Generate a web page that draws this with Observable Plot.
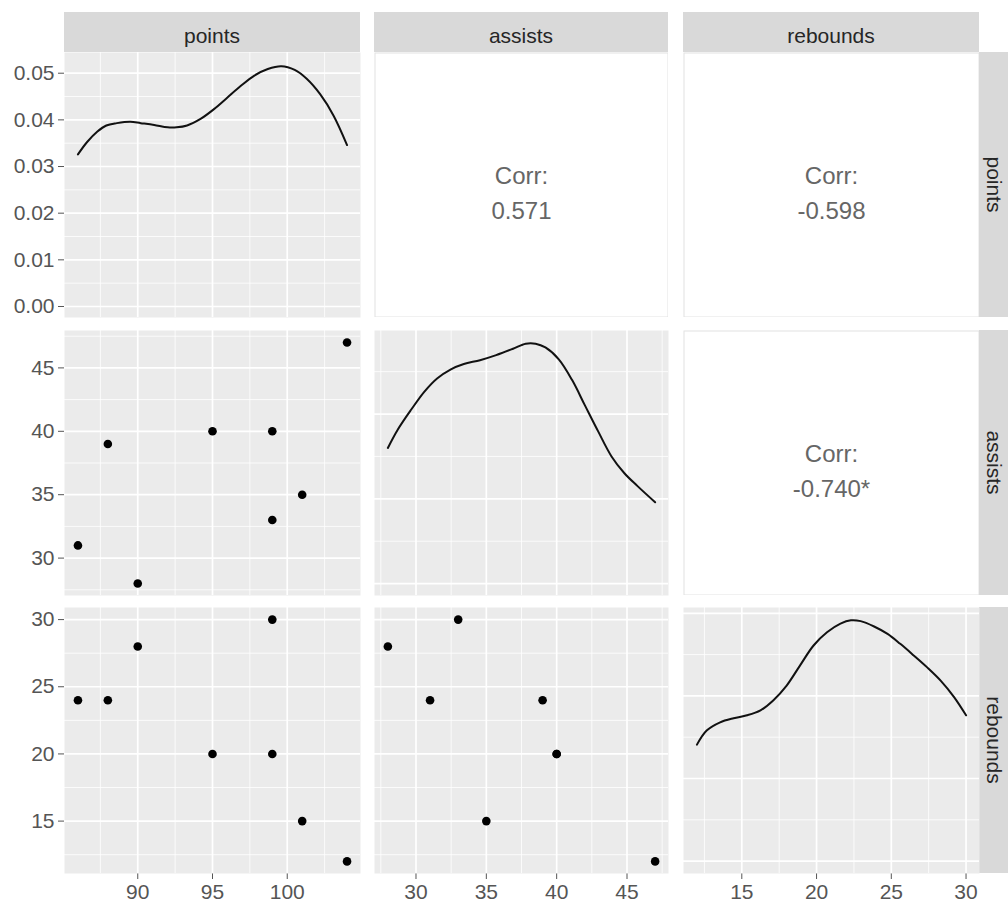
<!DOCTYPE html>
<html>
<head>
<meta charset="utf-8">
<script src="https://cdn.jsdelivr.net/npm/d3@7"></script>
<script src="https://cdn.jsdelivr.net/npm/@observablehq/plot@0.6"></script>
<style>
  body { margin: 0; background: #ffffff; }
  #chart { position: relative; width: 1008px; height: 904px; overflow: hidden; background: #ffffff;
           font-family: "Liberation Sans", Arial, sans-serif; }
  #chart svg { position: absolute; }
</style>
</head>
<body>
<div id="chart"></div>
<script>
// ---------------- data ----------------
const variables = ["points", "assists", "rebounds"];
const points   = [99, 90, 86, 88, 95, 99, 101, 104];
const assists  = [33, 28, 31, 39, 40, 40, 35, 47];
const rebounds = [30, 28, 24, 24, 20, 20, 15, 12];

// correlation labels: [points-assists, points-rebounds, assists-rebounds]
const corrLabels = ["0.571", "-0.598", "-0.740*"];

// density curves
const pointsDensX = [86, 86.6, 87.3, 87.9, 88.6, 89.5, 90.2, 91.1, 92.0, 92.6, 93.3, 94.2, 95.1, 96.0, 96.9, 97.8, 98.7, 99.6, 100.5, 101.3, 102.2, 103.1, 104];
const pointsDensY = [0.0326, 0.0352, 0.0375, 0.0388, 0.0393, 0.0396, 0.0393, 0.0389, 0.0384, 0.0384, 0.0388, 0.0402, 0.0423, 0.0448, 0.0473, 0.0495, 0.0509, 0.0515, 0.0507, 0.0488, 0.0455, 0.0409, 0.0346];
const assistsDensX = [28, 28.7, 29.65, 30.6, 31.5, 32.45, 33.4, 34.55, 35.7, 36.9, 37.8, 38.5, 39.2, 40.15, 41.1, 42.0, 42.95, 43.9, 44.8, 45.75, 47];
const assistsDensY = [0.0320, 0.0363, 0.0410, 0.0453, 0.0484, 0.0505, 0.0518, 0.0527, 0.0539, 0.0554, 0.0566, 0.0566, 0.0557, 0.0529, 0.0480, 0.0421, 0.0359, 0.0300, 0.0261, 0.0230, 0.0192];
const reboundsDensX = [12, 12.65, 13.55, 14.45, 15.35, 16.25, 17.1, 18.0, 18.9, 19.8, 20.7, 21.6, 22.3, 22.95, 23.85, 24.75, 25.6, 26.5, 27.4, 28.3, 29.2, 30];
const reboundsDensY = [0.0282, 0.0316, 0.0336, 0.0346, 0.0353, 0.0365, 0.0389, 0.0425, 0.0474, 0.0522, 0.0554, 0.0575, 0.0583, 0.0581, 0.0568, 0.0550, 0.0526, 0.0498, 0.0469, 0.0437, 0.0397, 0.0353];

// tick labels / breaks
const pointsTicks   = [90, 95, 100];
const assistsTicks  = [30, 35, 40, 45];
const reboundsTicks = [15, 20, 25, 30];
const densityTicks  = [0, 0.01, 0.02, 0.03, 0.04, 0.05];
const pointsMinor   = [87.5, 92.5, 97.5, 102.5];
const assistsMinor  = [27.5, 32.5, 37.5, 42.5, 47.5];
const reboundsMinor = [12.5, 17.5, 22.5, 27.5];
const densityFineMinor = [0.005, 0.015, 0.025, 0.035, 0.045];
const densityCoarseMajor = [0, 0.02, 0.04, 0.06];
const densityCoarseMinor = [0.01, 0.03, 0.05];

// ---------------- layout (not data) ----------------
const cols = [{x0: 64, x1: 360}, {x0: 374, x1: 668}, {x0: 683, x1: 979}];
const rows = [{y0: 52, y1: 317}, {y0: 330, y1: 595}, {y0: 607, y1: 873}];
const varDomain = {points: [85.1, 104.9], assists: [27.05, 47.95], rebounds: [11.1, 30.9]};
const densDomain = {points: [-0.00236, 0.05444], assists: [-0.0028, 0.0597], rebounds: [-0.003, 0.0614]};
const varTicks = {points: pointsTicks, assists: assistsTicks, rebounds: reboundsTicks};
const varMinor = {points: pointsMinor, assists: assistsMinor, rebounds: reboundsMinor};
const density = {
  points:   pointsDensX.map((x, i) => ({x, y: pointsDensY[i]})),
  assists:  assistsDensX.map((x, i) => ({x, y: assistsDensY[i]})),
  rebounds: reboundsDensX.map((x, i) => ({x, y: reboundsDensY[i]}))
};
const players = points.map((p, i) => ({points: p, assists: assists[i], rebounds: rebounds[i]}));

const FONT = "'Liberation Sans', Arial, sans-serif";
const chart = document.getElementById("chart");
const within = (arr, d) => arr.filter(v => v >= d[0] && v <= d[1]);

function place(svg, left, top) {
  svg.style.left = left + "px";
  svg.style.top = top + "px";
  svg.style.background = "transparent";
  svg.style.maxWidth = "none";
  chart.appendChild(svg);
}

function gridMarks(xMajor, xMinor, yMajor, yMinor) {
  return [
    Plot.frame({fill: "#EBEBEB", stroke: null}),
    Plot.ruleX(xMinor, {stroke: "#ffffff", strokeWidth: 0.8}),
    Plot.ruleY(yMinor, {stroke: "#ffffff", strokeWidth: 0.8}),
    Plot.ruleX(xMajor, {stroke: "#ffffff", strokeWidth: 1.7}),
    Plot.ruleY(yMajor, {stroke: "#ffffff", strokeWidth: 1.7})
  ];
}

function dataPanel(ci, ri, {xVar, yDomain, yTicks, yFormat, marks}) {
  const c = cols[ci], r = rows[ri];
  const axisLeft = ci === 0, axisBottom = ri === 2;
  const mL = axisLeft ? c.x0 : 0;
  const mB = axisBottom ? 904 - r.y1 : 0;
  const svg = Plot.plot({
    width: c.x1 - c.x0 + mL,
    height: r.y1 - r.y0 + mB,
    marginLeft: mL, marginRight: 0, marginTop: 0, marginBottom: mB,
    style: {fontFamily: FONT, fontSize: "21px", color: "#555555", background: "transparent", overflow: "visible"},
    x: {domain: varDomain[xVar], ticks: varTicks[xVar], tickSize: 6, tickPadding: 5, label: null,
        axis: axisBottom ? "bottom" : null},
    y: {domain: yDomain, ticks: yTicks, tickSize: 6, tickPadding: 4, label: null, tickFormat: yFormat,
        axis: axisLeft ? "left" : null},
    marks
  });
  place(svg, c.x0 - mL, r.y0);
}

function corrPanel(ci, ri, label) {
  const c = cols[ci], r = rows[ri];
  const svg = Plot.plot({
    width: c.x1 - c.x0, height: r.y1 - r.y0,
    margin: 0,
    style: {fontFamily: FONT, background: "transparent"},
    marks: [
      Plot.frame({fill: "#ffffff", stroke: "#E2E2E2", strokeWidth: 1, inset: 0.5}),
      Plot.text([label], {text: d => "Corr:\n" + d, frameAnchor: "middle", fontSize: 24,
                          lineHeight: 1.45, fill: "#666666", dy: 5})
    ]
  });
  place(svg, c.x0, r.y0);
}

function densityPanel(i) {
  const v = variables[i];
  const fine = i === 0;
  const yMajor = fine ? densityTicks : within(densityCoarseMajor, densDomain[v]);
  const yMinor = fine ? densityFineMinor : within(densityCoarseMinor, densDomain[v]);
  dataPanel(i, i, {
    xVar: v,
    yDomain: densDomain[v],
    yTicks: densityTicks,
    yFormat: d3.format(".2f"),
    marks: [
      ...gridMarks(varTicks[v], varMinor[v], yMajor, yMinor),
      Plot.line(density[v], {x: "x", y: "y", stroke: "#111111", strokeWidth: 2, curve: "catmull-rom"})
    ]
  });
}

function scatterPanel(ci, ri) {
  const xv = variables[ci], yv = variables[ri];
  dataPanel(ci, ri, {
    xVar: xv,
    yDomain: varDomain[yv],
    yTicks: varTicks[yv],
    yFormat: d3.format("d"),
    marks: [
      ...gridMarks(varTicks[xv], varMinor[xv], varTicks[yv], varMinor[yv]),
      Plot.dot(players, {x: xv, y: yv, r: 4.3, fill: "#000000", stroke: null})
    ]
  });
}

// ---------------- strips ----------------
const strips = d3.create("svg")
  .attr("width", 1008).attr("height", 904)
  .style("left", "0px").style("top", "0px")
  .style("font-family", FONT);
variables.forEach((v, i) => {
  const c = cols[i];
  strips.append("rect").attr("x", c.x0).attr("y", 12).attr("width", c.x1 - c.x0).attr("height", 40).attr("fill", "#D9D9D9");
  strips.append("text").attr("x", (c.x0 + c.x1) / 2).attr("y", 43).attr("text-anchor", "middle")
    .attr("font-size", 21).attr("fill", "#262626").text(v);
  const r = rows[i];
  const cy = (r.y0 + r.y1) / 2;
  strips.append("rect").attr("x", 979).attr("y", r.y0).attr("width", 40).attr("height", r.y1 - r.y0).attr("fill", "#D9D9D9");
  strips.append("text").attr("x", 987).attr("y", cy).attr("text-anchor", "middle")
    .attr("transform", `rotate(90, 987, ${cy})`)
    .attr("font-size", 21).attr("fill", "#262626").text(v);
});
chart.appendChild(strips.node());

// ---------------- panels ----------------
densityPanel(0);
corrPanel(1, 0, corrLabels[0]);
corrPanel(2, 0, corrLabels[1]);
scatterPanel(0, 1);
densityPanel(1);
corrPanel(2, 1, corrLabels[2]);
scatterPanel(0, 2);
scatterPanel(1, 2);
densityPanel(2);
</script>
</body>
</html>
